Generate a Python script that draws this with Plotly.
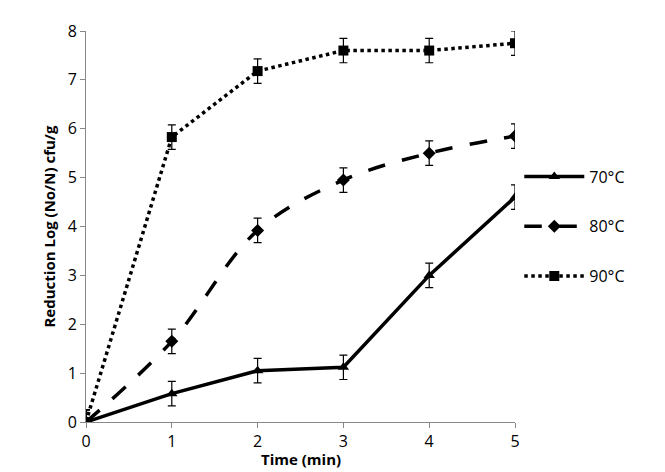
import plotly.graph_objects as go

# time points (min)
time = [0, 1, 2, 3, 4, 5]

# log reduction per temperature
red_70 = [0, 0.58, 1.05, 1.12, 3.0, 4.6]
red_80 = [0, 1.65, 3.92, 4.95, 5.5, 5.85]
red_90 = [0, 5.83, 7.18, 7.6, 7.6, 7.75]
err = [0.25, 0.25, 0.25, 0.25, 0.25, 0.25]

series = [
    ("70°C", red_70, "solid", "triangle-up", "linear"),
    ("80°C", red_80, "longdash", "diamond", "spline"),
    ("90°C", red_90, "dot", "square", "linear"),
]

fig = go.Figure()
for name, vals, dash, sym, shape in series:
    fig.add_trace(go.Scatter(
        x=time, y=vals, name=name, mode="lines+markers", legendgroup=name,
        line=dict(color="black", width=3.5, dash=dash, shape=shape),
        marker=dict(symbol=sym, size=10, color="black"),
        error_y=dict(type="data", array=err, color="black", thickness=1.2, width=4),
    ))

fig.add_annotation(text="<b>Time (min)</b>", xref="paper", yref="paper", x=0.5, y=0,
                   yanchor="top", yshift=-25, showarrow=False, font=dict(size=15))

fig.update_layout(
    width=665, height=472,
    margin=dict(l=78, r=158, t=14, b=58),
    plot_bgcolor="white", paper_bgcolor="white",
    font=dict(family="Open Sans, Liberation Sans, sans-serif", size=16, color="black"),
    legend=dict(x=1.01, y=0.5, yanchor="middle", tracegroupgap=26,
                itemwidth=60, font=dict(size=16)),
    xaxis=dict(range=[0, 5], tickvals=time, showline=True, linecolor="#888",
               ticks="outside", tickcolor="#888", ticklen=5, showgrid=False, zeroline=False),
    yaxis=dict(range=[0, 8], dtick=1, showline=True, linecolor="#888",
               ticks="outside", tickcolor="#888", ticklen=5, showgrid=False, zeroline=False,
               title=dict(text="<b>Reduction Log (No/N) cfu/g</b>", font=dict(size=15), standoff=8)),
)

fig.write_html("out.html")
